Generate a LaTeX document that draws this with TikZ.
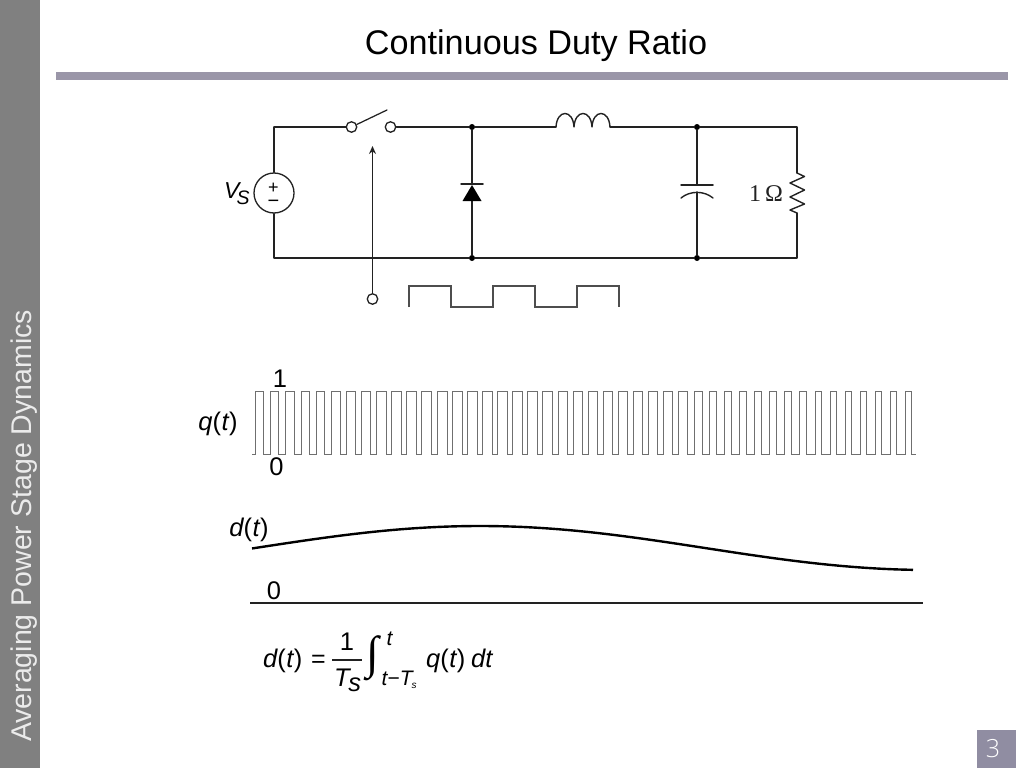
\documentclass[tikz,border=0pt]{standalone}
\usepackage{fontspec}
\setmainfont{Liberation Sans}
\newfontfamily\serifcap{Liberation Serif}
\newfontfamily\lightsans{Open Sans Light}[BoldFont={Open Sans}]
\usetikzlibrary{arrows.meta}
\definecolor{barcol}{HTML}{9A96A8}
\definecolor{sidecol}{HTML}{808080}
\definecolor{numcol}{HTML}{908DA2}
\definecolor{inkcol}{HTML}{222222}
\tikzset{
  wire/.style={draw=inkcol,line width=1.25pt,line cap=round,line join=round},
  wave/.style={draw=inkcol!80,line width=1.1pt,line join=miter},
  junction/.style={circle,fill=black,inner sep=0pt,minimum size=6pt},
  terminal/.style={circle,draw=inkcol,line width=1.3pt,fill=white,inner sep=0pt,minimum size=10.5pt},
  lab/.style={inner sep=0pt,text=black,font=\fontsize{25.5}{28}\selectfont},
  small/.style={inner sep=0pt,text=black,font=\fontsize{21}{22}\selectfont},
}
\begin{document}
\begin{tikzpicture}[x=1pt,y=-1pt]
\useasboundingbox (0,0) rectangle (1024,768);
% page furniture
\fill[sidecol] (0,0) rectangle (40,768);
\fill[barcol] (56,72) rectangle (1008,80);
\fill[numcol] (977,730) rectangle (1016,768);
\node[inner sep=0pt,text=black,font=\fontsize{34.2}{38}\selectfont] (title) at (536,46) {Continuous Duty Ratio};
\node[inner sep=0pt,text=white!92!black,rotate=90,font=\fontsize{28.5}{30}\selectfont] (side) at (24,526) {Averaging Power Stage Dynamics};
\node[inner sep=0pt,text=white,font=\lightsans\fontsize{25}{28}\selectfont] (pagenum) at (993,749) {3};
% circuit corners and junctions
\coordinate (tl) at (274,127);
\coordinate (bl) at (274,258);
\coordinate (tr) at (797,127);
\coordinate (br) at (797,258);
\coordinate (indL) at (556,127);
\coordinate (indR) at (610,127);
\coordinate (resT) at (797,173);
\coordinate (resB) at (797,213);
\coordinate (bladeEnd) at (387,110);
\coordinate (arrowTip) at (372.5,146);
\coordinate (capTop) at (697,185);
\coordinate (capBot) at (697,192);
\coordinate (diodeA) at (472,201);
\coordinate (diodeK) at (472,184);
\node[junction] (j1) at (472,127) {};
\node[junction] (j2) at (472,258) {};
\node[junction] (j3) at (697,127) {};
\node[junction] (j4) at (697,258) {};
\node[terminal] (sa) at (351.5,127) {};
\node[terminal] (sb) at (390.5,127) {};
\node[terminal] (ctl) at (372.5,299) {};
\node[circle,draw=inkcol,line width=1.3pt,fill=white,inner sep=0pt,minimum size=40pt] (src) at (274,193) {};
% wires
\draw[wire] (tl) -- (sa);
\draw[wire] (sb) -- (j1);
\draw[wire] (j1) -- (indL);
\draw[wire] (indR) -- (j3) -- (tr) -- (resT);
\draw[wire] (resB) -- (br) -- (j4) -- (j2) -- (bl) -- (src);
\draw[wire] (src) -- (tl);
\draw[wire] (sa) -- (bladeEnd);
\draw[wire,-{Stealth[length=8pt,width=7pt]}] (ctl) -- (arrowTip);
\draw[wire] (j1) -- (diodeK);
\draw[wire] (diodeA) -- (j2);
\draw[wire] (j3) -- (capTop);
\draw[wire] (capBot) -- (j4);
% source marks
\node[inner sep=0pt,font=\fontsize{18}{18}\selectfont] (plus) at (273.5,188) {+};
\node[inner sep=0pt,font=\fontsize{20}{20}\selectfont] (minus) at (273.5,203.5) {−};
\node[inner sep=0pt,anchor=base west,font=\fontsize{23}{24}\selectfont\itshape] (vs) at (224,198) {V\kern-3pt\raisebox{-6pt}{\fontsize{19.5}{20}\selectfont S}};
% diode
\draw[wire,line width=1.5pt] (461,184) -- (483,184);
\fill[black] (472,185) -- (481.5,201) -- (462.5,201) -- cycle;
% inductor
\draw[wire,line width=1.4pt] (indL) .. controls (557,109) and (573,109) .. (574,127)
  .. controls (575,109) and (591,109) .. (592,127)
  .. controls (593,109) and (609,109) .. (indR);
% capacitor
\draw[wire,line width=1.5pt] (681,185) -- (713,185);
\draw[wire,line width=1.4pt] (681,198) .. controls (690,190.5) and (704,190.5) .. (713,198);
% resistor
\draw[wire,line width=1.4pt] (resT) -- (804.5,176.5) -- (790,183) -- (804.5,190) -- (790,197) -- (804.5,204) -- (790,210) -- (resB);
\node[inner sep=0pt,text=inkcol,font=\serifcap\fontsize{24}{26}\selectfont] (rl) at (766,194) {1\,Ω};
% gate waveform
\draw[wave] (409,307) -- (409,286) -- (451,286) -- (451,307) -- (493,307) -- (493,286) -- (535,286) -- (535,307) -- (577,307) -- (577,286) -- (619,286) -- (619,307);
% q(t)
\draw[wave,line width=1pt,draw=inkcol!65]
  (252,454)
  \foreach \i [evaluate=\i as \xa using 255.7+15.116*\i,
               evaluate=\i as \xb using 255.7+15.116*\i+7.8+2.2*cos(0.4*(255.7+15.116*\i-480))] in {0,...,43} {
    -- (\xa,454) -- (\xa,391.5) -- (\xb,391.5) -- (\xb,454)
  } -- (916,454);
\node[lab,anchor=base] (q) at (218,430) {\itshape q\upshape(\kern0.5pt\itshape t\kern0.5pt\upshape)};
\node[lab,anchor=base] (q1) at (280,387) {1};
\node[lab,anchor=base] (q0) at (276.5,475) {0};
% d(t)
\draw[line width=2.4pt,draw=black] plot[smooth,samples=40,domain=252:913] (\x,{548-22*cos(0.4*(\x-480))});
\node[lab,anchor=base] (d) at (249,536) {\itshape d\upshape(\kern0.5pt\itshape t\kern0.5pt\upshape)};
\node[lab,anchor=base] (d0) at (274,599) {0};
\coordinate (axL) at (250,603);
\coordinate (axR) at (923,603);
\draw[wire,line cap=butt] (axL) -- (axR);
% equation
\node[lab,anchor=base west] (e1) at (263,667) {\itshape d\upshape(\kern0.5pt\itshape t\kern0.5pt\upshape)};
\node[inner sep=0pt,anchor=base,font=\fontsize{25}{26}\selectfont] (e2) at (318.5,667.5) {=};
\coordinate (fl) at (332,660);
\coordinate (fr) at (362,660);
\draw[wire,line cap=butt] (fl) -- (fr);
\node[lab,anchor=base] (e3) at (347,650) {1};
\node[lab,anchor=base west] (e4) at (334,686) {\itshape T\kern-1.5pt\raisebox{-5pt}{s}};
\node[inner sep=0pt,anchor=center,font=\serifcap\fontsize{46}{50}\selectfont] (e5) at (373,658) {∫};
\node[small,anchor=base] (e6) at (389.5,645) {\itshape t};
\node[small,anchor=base west] (e7) at (381.5,685) {\itshape t\upshape−\itshape T\kern-1pt\raisebox{-3pt}{\fontsize{10}{10}\selectfont s}};
\node[lab,anchor=base west] (e8) at (426,667) {\itshape q\upshape(\kern0.5pt\itshape t\kern0.5pt\upshape)};
\node[lab,anchor=base west] (e9) at (471,667) {\itshape dt};
\end{tikzpicture}
\end{document}
